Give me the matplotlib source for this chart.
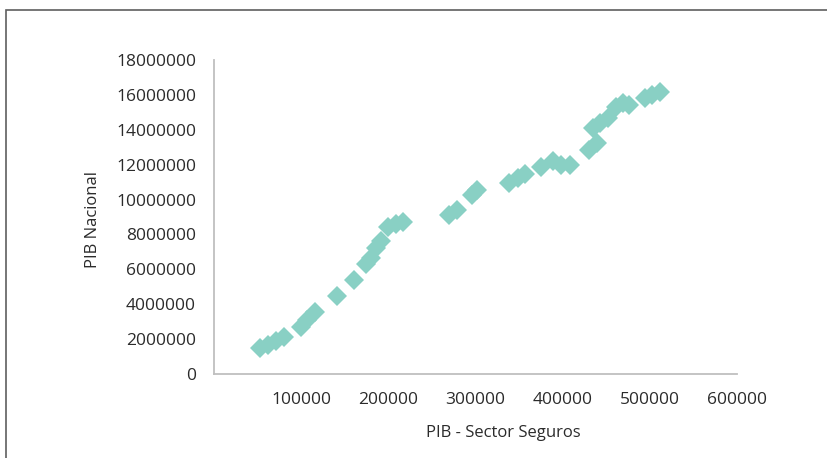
import matplotlib
matplotlib.use("Agg")
import matplotlib.pyplot as plt
from matplotlib.patches import Rectangle

plt.rcParams['font.family'] = ['Open Sans', 'DejaVu Sans']

# PIB sector seguros vs PIB nacional
pib_seguros = [52800, 62000, 71100, 80300, 99800, 106700, 115900, 141100,
               160600, 174400, 180100, 185800, 191600, 199600, 208800, 216800,
               269600, 278800, 296000, 301700, 338400, 348700, 356800, 375100,
               388900, 398100, 408400, 430200, 439400, 434800, 442800, 452000,
               461200, 469200, 476100, 494400, 502500, 511700]
pib_nacional = [1490000, 1662000, 1892000, 2121000, 2694000, 3096000, 3554000,
                4471000, 5389000, 6306000, 6650000, 7223000, 7624000, 8427000,
                8599000, 8713000, 9115000, 9401000, 10261000, 10548000,
                10949000, 11236000, 11465000, 11866000, 12210000, 11981000,
                11981000, 12841000, 13242000, 14102000, 14389000, 14675000,
                15306000, 15535000, 15420000, 15822000, 15994000, 16166000]

x_ticks = [100000, 200000, 300000, 400000, 500000, 600000]
y_ticks = [0, 2000000, 4000000, 6000000, 8000000, 10000000, 12000000,
           14000000, 16000000, 18000000]

W, H = 828, 458
fig = plt.figure(figsize=(W / 100, H / 100), dpi=100)
ax = fig.add_axes([214 / W, 1 - 374 / H, (737 - 214) / W, (374 - 60) / H])

# outer chart frame (right and bottom edges fall outside the canvas)
fig.patches.append(Rectangle((6 / W, -0.5), 2.0, 1 - 10 / H + 0.5,
                             transform=fig.transFigure, fill=False,
                             edgecolor='#5f5f5f', linewidth=1.2))

ax.plot(pib_seguros, pib_nacional, linestyle='none', marker='D',
        markersize=10, color='#89d0c4', markeredgewidth=0)

ax.set_xlim(0, 600000)
ax.set_ylim(0, 18000000)
ax.set_xticks(x_ticks)
ax.set_yticks(y_ticks)
ax.set_xticklabels([str(v) for v in x_ticks])
ax.set_yticklabels([str(v) for v in y_ticks])
ax.tick_params(axis='both', length=0, labelsize=12.5, labelcolor='#2b2b2b')
ax.tick_params(axis='x', pad=13)
ax.tick_params(axis='y', pad=13)

for side in ('top', 'right'):
    ax.spines[side].set_visible(False)
for side in ('left', 'bottom'):
    ax.spines[side].set_color('#bfbfbf')
    ax.spines[side].set_linewidth(1.3)

fig.text(503 / W, 1 - 433 / H, 'PIB - Sector Seguros', ha='center',
         va='center', fontsize=12, color='#2b2b2b')
fig.text(93 / W, 1 - 219 / H, 'PIB Nacional', ha='center', va='center',
         rotation=90, fontsize=12, color='#2b2b2b')

fig.savefig('out.png', dpi=100)
